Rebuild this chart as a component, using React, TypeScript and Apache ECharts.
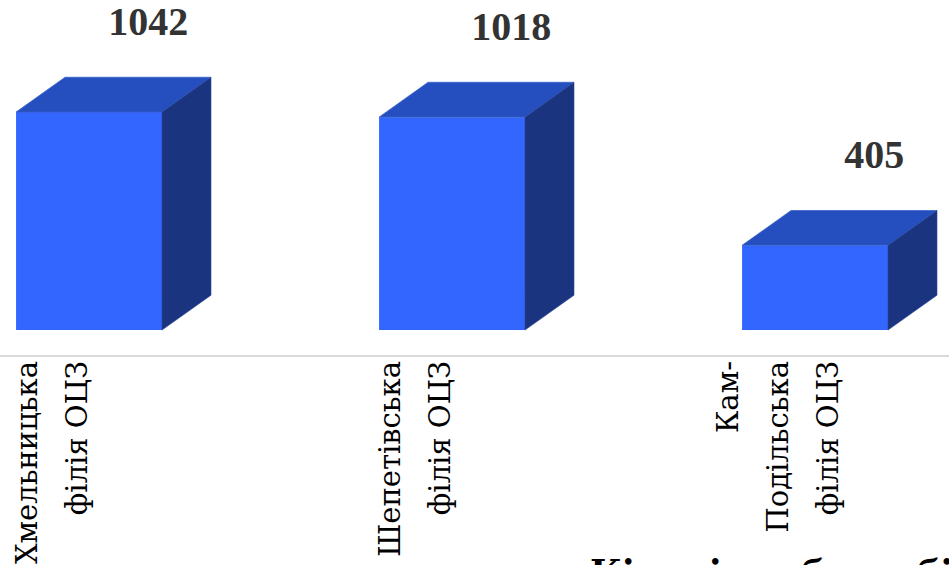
import React, { useEffect, useRef } from "react";
import * as echarts from "echarts";

const categories: string[] = [
  "Хмельницька\nфілія ОЦЗ",
  "Шепетівська\nфілія ОЦЗ",
  "Кам-\nПодільська\nфілія ОЦЗ",
];
const values: number[] = [1042, 1018, 405];
const titleText = "Кількість безробітних";

const FRONT = "#3366FF";
const TOP = "#254FBE";
const SIDE = "#1A3480";
const NUM_FONT = "Liberation Serif";
const CYR_FONT = "DejaVu Serif";

export default function App() {
  const ref = useRef<HTMLDivElement>(null);

  useEffect(() => {
    if (!ref.current) return;
    const chart = echarts.init(ref.current, undefined, { renderer: "svg" });

    const renderItem = (params: any, api: any) => {
      const idx = api.value(0);
      const v = api.value(1);
      const topPt = api.coord([idx, v]);
      const basePt = api.coord([idx, 0]);
      const band = api.size([1, 0])[0];
      const cx = topPt[0];
      const w = band * 0.402;
      const x0 = cx - band * 0.099;
      const x1 = x0 + w;
      const dx = band * 0.135;
      const dy = band * 0.096;
      const ty = topPt[1];
      const by = basePt[1];
      return {
        type: "group",
        children: [
          {
            type: "polygon",
            shape: { points: [[x0, ty], [x1, ty], [x1, by], [x0, by]] },
            style: { fill: FRONT },
          },
          {
            type: "polygon",
            shape: { points: [[x0, ty], [x0 + dx, ty - dy], [x1 + dx, ty - dy], [x1, ty]] },
            style: { fill: TOP, stroke: "#3a62cf", lineWidth: 0.8 },
          },
          {
            type: "polygon",
            shape: { points: [[x1, ty], [x1 + dx, ty - dy], [x1 + dx, by - dy], [x1, by]] },
            style: { fill: SIDE, stroke: "#2a4595", lineWidth: 0.6 },
          },
          {
            type: "text",
            style: {
              x: cx + band * 0.265,
              y: ty - band * 0.25,
              text: String(v),
              align: "center",
              verticalAlign: "middle",
              fill: "#333333",
              fontFamily: NUM_FONT,
              fontWeight: "bold",
              fontSize: 40,
            },
          },
        ],
      };
    };

    chart.setOption({
      animation: false,
      title: {
        text: `{t|${titleText}}`,
        left: 585,
        top: 550,
        textStyle: {
          rich: {
            t: { fontFamily: CYR_FONT, fontWeight: "bold", fontSize: 35, color: "#000" },
          },
        },
      },
      grid: {
        left: -129.5,
        right: -10.5,
        top: 0,
        bottom: 209,
        containLabel: false,
        outerBoundsMode: "none",
      },
      xAxis: {
        type: "category",
        data: categories,
        boundaryGap: true,
        axisLine: { show: true, onZero: false, lineStyle: { color: "#cccccc", width: 1.5 } },
        axisTick: { show: false },
        axisLabel: {
          interval: 0,
          rotate: 90,
          margin: 5,
          fontSize: 29,
          lineHeight: 50,
          fontFamily: CYR_FONT,
          color: "#000",
          hideOverlap: false,
          formatter: (val: string) =>
            val.split("\n").map((l) => `{c|${l}}`).join("\n"),
          rich: {
            c: { fontFamily: CYR_FONT, fontSize: 29, lineHeight: 50, color: "#000" },
          },
        },
      },
      yAxis: {
        type: "value",
        min: -124,
        max: 1578,
        show: false,
        splitLine: { show: false },
      },
      series: [
        {
          type: "custom",
          clip: false,
          renderItem,
          encode: { x: 0, y: 1 },
          data: values.map((v, i) => [i, v]),
        },
      ],
    });

    return () => chart.dispose();
  }, []);

  return (
    <div
      ref={ref}
      style={{ position: "absolute", left: 0, top: 0, width: 949, height: 565, background: "#fff" }}
    />
  );
}
